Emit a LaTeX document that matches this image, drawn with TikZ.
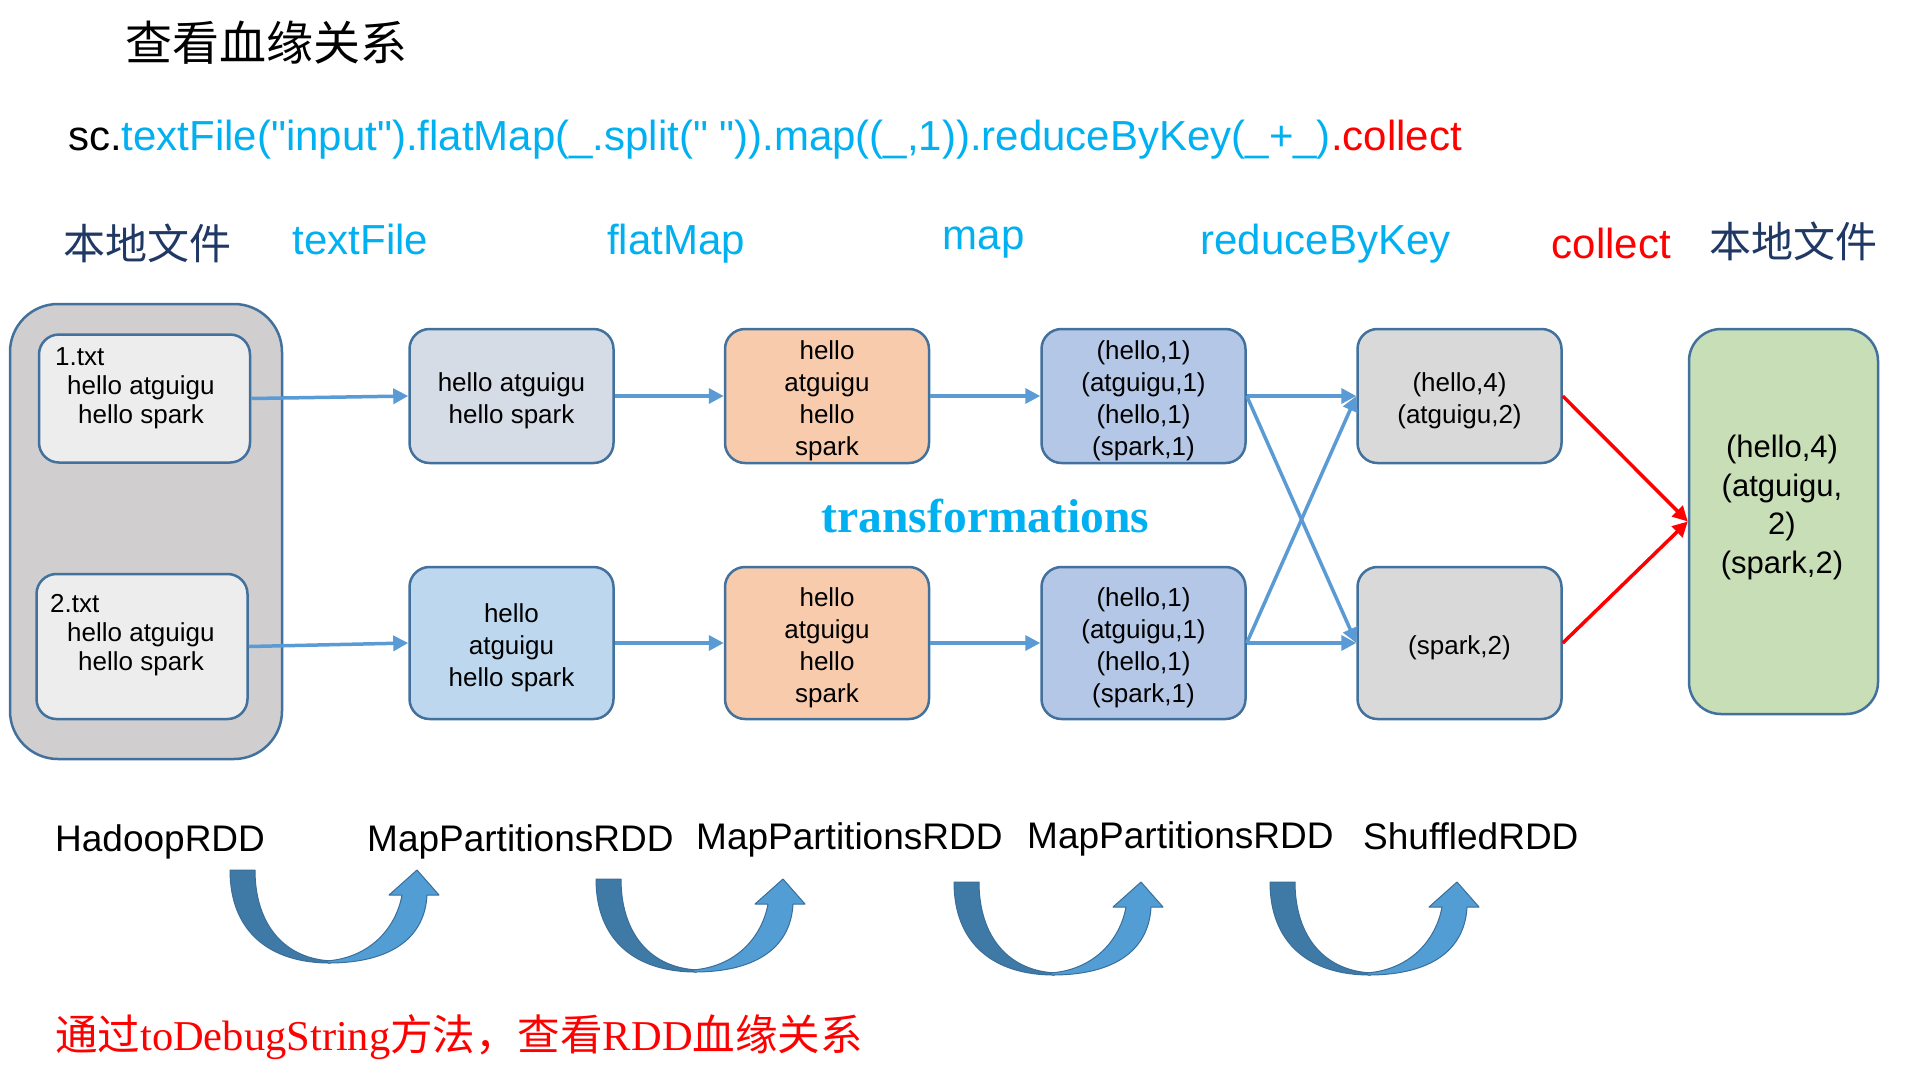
\documentclass[tikz,border=0pt]{standalone}
\usepackage{fontspec}
\setmainfont{Liberation Sans}
\newfontfamily\serifx{Liberation Serif}
\newfontfamily\cjk{Noto Sans CJK SC}
\usetikzlibrary{arrows.meta}
\definecolor{edgeblue}{HTML}{41719C}
\definecolor{outergray}{HTML}{D0CECE}
\definecolor{filegray}{HTML}{EDEDED}
\definecolor{tfgray}{HTML}{D6DCE5}
\definecolor{tfblue}{HTML}{BDD7EE}
\definecolor{fmorange}{HTML}{F8CBAD}
\definecolor{mpblue}{HTML}{B4C7E7}
\definecolor{rbgray}{HTML}{D9D9D9}
\definecolor{resgreen}{HTML}{C8DEB6}
\definecolor{flowblue}{HTML}{5B9BD5}
\definecolor{cyantext}{HTML}{00B0F0}
\definecolor{navytext}{HTML}{203864}
\definecolor{udark}{HTML}{3F7AA6}
\definecolor{ulight}{HTML}{519DD4}
\definecolor{uedge}{HTML}{3A6E9A}
\tikzset{
  box/.style={draw=edgeblue, line width=2.5pt, rounded corners=20pt, inner sep=0pt},
  boxtext/.style={inner sep=0pt, align=center, font=\fontsize{26}{32}\selectfont},
  toprow/.style={box, minimum width=204pt, minimum height=134pt},
  botrow/.style={box, minimum width=204pt, minimum height=152pt},
  flow/.style={draw=flowblue, line width=3.5pt, -{Triangle[length=15pt,width=15pt]}},
  redflow/.style={draw=red, line width=3.5pt, -{Triangle[length=15pt,width=15pt]}},
  header/.style={anchor=base, inner sep=0pt, font=\fontsize{42}{50}\selectfont},
  rddlabel/.style={anchor=base west, inner sep=0pt, font=\fontsize{37}{44}\selectfont},
  uarrow/.pic={
    \fill[udark, draw=uedge, line width=1pt, line join=round]
      (0,0) -- (25,0) .. controls (25,55) and (55,90) .. (104,91)
      -- (100,93) .. controls (40,93) and (0,62) .. (0,0) -- cycle;
    \fill[ulight, draw=uedge, line width=1pt, line join=round]
      (98,93) .. controls (165,93) and (195,65) .. (197,25)
      -- (209,25) -- (187,0) -- (159,25) -- (172,25)
      .. controls (166,58) and (140,88) .. (96,91) -- cycle;
  }
}
\begin{document}
\begin{tikzpicture}[x=1pt,y=-1pt]
\useasboundingbox[fill=white] (0,0) rectangle (1905,1069);

% title and code line
\node[inner sep=0pt, font=\cjk\fontsize{47}{56}\selectfont] (title) at (266,42.5) {查看血缘关系};
\node[anchor=base west, inner sep=0pt, font=\fontsize{42}{48}\selectfont] (code) at (68,150)
  {sc.\textcolor{cyantext}{textFile(\textquotedbl input\textquotedbl).flatMap(\_.split(\textquotedbl\ \textquotedbl)).map((\_,1)).reduceByKey(\_+\_)}\textcolor{red}{.collect}};

% headers
\node[inner sep=0pt, text=navytext, font=\cjk\fontsize{42}{50}\selectfont] (hL1) at (147,243) {本地文件};
\node[header, text=cyantext] (hTF) at (360.5,254) {textFile};
\node[header, text=cyantext] (hFM) at (676,254) {flatMap};
\node[header, text=cyantext] (hMap) at (983.5,249) {map};
\node[header, text=cyantext] (hRBK) at (1325.5,254) {reduceByKey};
\node[header, text=red] (hCol) at (1611.5,258) {collect};
\node[inner sep=0pt, text=navytext, font=\cjk\fontsize{42}{50}\selectfont] (hL2) at (1793,241) {本地文件};

% local files
\node[box, fill=outergray, rounded corners=48pt, minimum width=272pt, minimum height=455pt] (local) at (146,531.5) {};
\node[box, fill=filegray, minimum width=211pt, minimum height=128pt] (f1) at (144.5,398.5) {};
\node[anchor=north west, inner sep=0pt, align=left, font=\fontsize{26}{29}\selectfont] (f1t) at (55,347.4)
  {1.txt\\\hspace*{12pt}hello atguigu\\\hspace*{23pt}hello spark};
\node[box, fill=filegray, minimum width=211pt, minimum height=145pt] (f2) at (142,646.5) {};
\node[anchor=north west, inner sep=0pt, align=left, font=\fontsize{26}{29}\selectfont] (f2t) at (50,594.4)
  {2.txt\\\hspace*{17pt}hello atguigu\\\hspace*{28pt}hello spark};

% top row
\node[toprow, fill=tfgray] (tf1) at (511.5,396) {};
\node[toprow, fill=fmorange] (fm1) at (827,396) {};
\node[toprow, fill=mpblue] (mp1) at (1143.5,396) {};
\node[toprow, fill=rbgray] (rb1) at (1459.5,396) {};
\node[boxtext] (tf1t) at ([yshift=-5pt]tf1.center) {hello atguigu\\hello spark};
\node[boxtext] (fm1t) at ([yshift=-5pt]fm1.center) {hello\\atguigu\\hello\\spark};
\node[boxtext] (mp1t) at ([yshift=-5pt]mp1.center) {(hello,1)\\(atguigu,1)\\(hello,1)\\(spark,1)};
\node[boxtext] (rb1t) at ([yshift=-5pt]rb1.center) {(hello,4)\\(atguigu,2)};
% bottom row
\node[botrow, fill=tfblue] (tf2) at (511.5,643) {};
\node[botrow, fill=fmorange] (fm2) at (827,643) {};
\node[botrow, fill=mpblue] (mp2) at (1143.5,643) {};
\node[botrow, fill=rbgray] (rb2) at (1459.5,643) {};
\node[boxtext] (tf2t) at ([yshift=-5pt]tf2.center) {hello\\atguigu\\hello spark};
\node[boxtext] (fm2t) at ([yshift=-5pt]fm2.center) {hello\\atguigu\\hello\\spark};
\node[boxtext] (mp2t) at ([yshift=-5pt]mp2.center) {(hello,1)\\(atguigu,1)\\(hello,1)\\(spark,1)};
\node[boxtext] (rb2t) at ([yshift=-5pt]rb2.center) {(spark,2)};
% result
\node[box, fill=resgreen, rounded corners=32pt, minimum width=189pt, minimum height=385pt] (res) at (1783.5,521.5) {};
\node[inner sep=0pt, align=center, font=\fontsize{31}{38.5}\selectfont] (resT) at (1782,507.5)
  {(hello,4)\\(atguigu,\\2)\\(spark,2)};

% connectors
\draw[flow] (f1.east) -- (tf1.west);
\draw[flow] (f2.east) -- (tf2.west);
\draw[flow] (tf1.east) -- (fm1.west);
\draw[flow] (tf2.east) -- (fm2.west);
\draw[flow] (fm1.east) -- (mp1.west);
\draw[flow] (fm2.east) -- (mp2.west);
\draw[flow] (mp1.east) -- (rb1.west);
\draw[flow] (mp1.east) -- (rb2.west);
\draw[flow] (mp2.east) -- (rb2.west);
\draw[flow] (mp2.east) -- (rb1.west);
\draw[redflow] (rb1.east) -- (res.west);
\draw[redflow] (rb2.east) -- (res.west);

% transformations
\node[anchor=base, inner sep=0pt, text=cyantext, font=\serifx\bfseries\fontsize{47.5}{56}\selectfont] (trans) at (985.5,532) {transformations};

% RDD labels
\node[rddlabel] (r1) at (55,851.5) {HadoopRDD};
\node[rddlabel] (r2) at (367,851.5) {MapPartitionsRDD};
\node[rddlabel] (r3) at (696,849.5) {MapPartitionsRDD};
\node[rddlabel] (r4) at (1027,848.5) {MapPartitionsRDD};
\node[rddlabel] (r5) at (1363,849.5) {ShuffledRDD};

% curved arrows
\pic at (230,870) {uarrow};
\pic at (596,879) {uarrow};
\pic at (954,882) {uarrow};
\pic at (1270,882) {uarrow};

% bottom note
\node[anchor=base west, inner sep=0pt, text=red, font=\serifx\fontsize{42.5}{48}\selectfont] (note) at (55,1050)
  {{\cjk 通过}toDebugString{\cjk 方法，查看}RDD{\cjk 血缘关系}};
\end{tikzpicture}
\end{document}
